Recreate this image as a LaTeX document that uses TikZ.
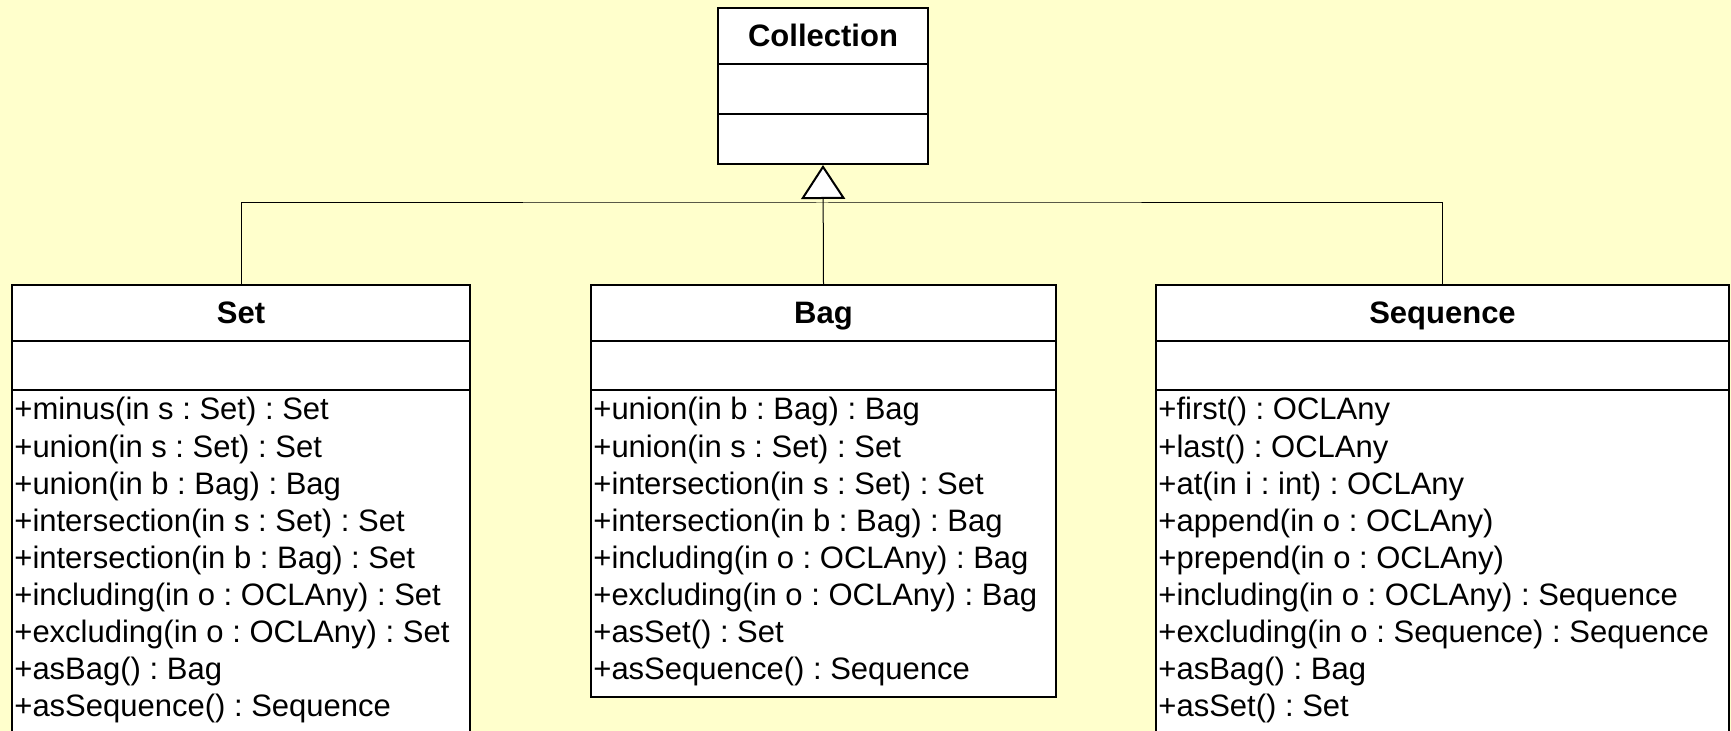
\documentclass[tikz,border=0pt]{standalone}
\usepackage{fontspec}
\setmainfont{Liberation Sans}
\usetikzlibrary{arrows.meta}
\definecolor{paper}{HTML}{FFFFCC}
\frenchspacing
\tikzset{
  x=0.5pt, y=-0.5pt,
  comp/.style={draw=black, line width=1pt, fill=white, inner sep=0pt, anchor=north west},
  title/.style={comp, font=\fontsize{15.5}{18.6}\bfseries\selectfont,
                text height=11pt, text depth=0pt},
  op/.style={anchor=base west, inner sep=0pt, font=\fontsize{15.5}{18.6}\selectfont},
  conn/.style={draw=black, line width=0.5pt},
  gen/.style={conn, -{Triangle[length=17pt, width=22pt, fill=white, line width=1pt]}},
}
\begin{document}
\begin{tikzpicture}
\useasboundingbox[fill=paper] (0,0) rectangle (1731,731);

% Collection
\node[title, minimum width=105pt, minimum height=28pt] (coltitle) at (717,7) {Collection};
\node[comp, minimum width=105pt, minimum height=25pt] (colattr) at (717,63) {};
\node[comp, minimum width=105pt, minimum height=25pt] (colops) at (717,113) {};

% Set
\node[title, minimum width=229pt, minimum height=28pt] (settitle) at (11,284) {Set};
\node[comp, minimum width=229pt, minimum height=24.5pt] (setattr) at (11,340) {};
\node[comp, minimum width=229pt, minimum height=190pt] (setops) at (11,389) {};
\foreach \t [count=\i from 0] in {
  {+minus(in s : Set) : Set},
  {+union(in s : Set) : Set},
  {+union(in b : Bag) : Bag},
  {+intersection(in s : Set) : Set},
  {+intersection(in b : Bag) : Set},
  {+including(in o : OCLAny) : Set},
  {+excluding(in o : OCLAny) : Set},
  {+asBag() : Bag},
  {+asSequence() : Sequence}}
  \node[op] (setop\i) at (14,420+37.1*\i) {\t};

% Bag
\node[title, minimum width=232.5pt, minimum height=28pt] (bagtitle) at (590,284) {Bag};
\node[comp, minimum width=232.5pt, minimum height=24.5pt] (bagattr) at (590,340) {};
\node[comp, minimum width=232.5pt, minimum height=153.5pt] (bagops) at (590,389) {};
\foreach \t [count=\i from 0] in {
  {+union(in b : Bag) : Bag},
  {+union(in s : Set) : Set},
  {+intersection(in s : Set) : Set},
  {+intersection(in b : Bag) : Bag},
  {+including(in o : OCLAny) : Bag},
  {+excluding(in o : OCLAny) : Bag},
  {+asSet() : Set},
  {+asSequence() : Sequence}}
  \node[op] (bagop\i) at (593,420+37.1*\i) {\t};

% Sequence
\node[title, minimum width=286.5pt, minimum height=28pt] (seqtitle) at (1155,284) {Sequence};
\node[comp, minimum width=286.5pt, minimum height=24.5pt] (seqattr) at (1155,340) {};
\node[comp, minimum width=286.5pt, minimum height=190pt] (seqops) at (1155,389) {};
\foreach \t [count=\i from 0] in {
  {+first() : OCLAny},
  {+last() : OCLAny},
  {+at(in i : int) : OCLAny},
  {+append(in o : OCLAny)},
  {+prepend(in o : OCLAny)},
  {+including(in o : OCLAny) : Sequence},
  {+excluding(in o : Sequence) : Sequence},
  {+asBag() : Bag},
  {+asSet() : Set}}
  \node[op] (seqop\i) at (1158,420+37.1*\i) {\t};

% Generalisation
\coordinate (bar) at (822,203);
\draw[conn] (settitle.north) |- (bar) -| (seqtitle.north);
\draw[gen] (bagtitle.north) -- (colops.south);
\end{tikzpicture}
\end{document}
